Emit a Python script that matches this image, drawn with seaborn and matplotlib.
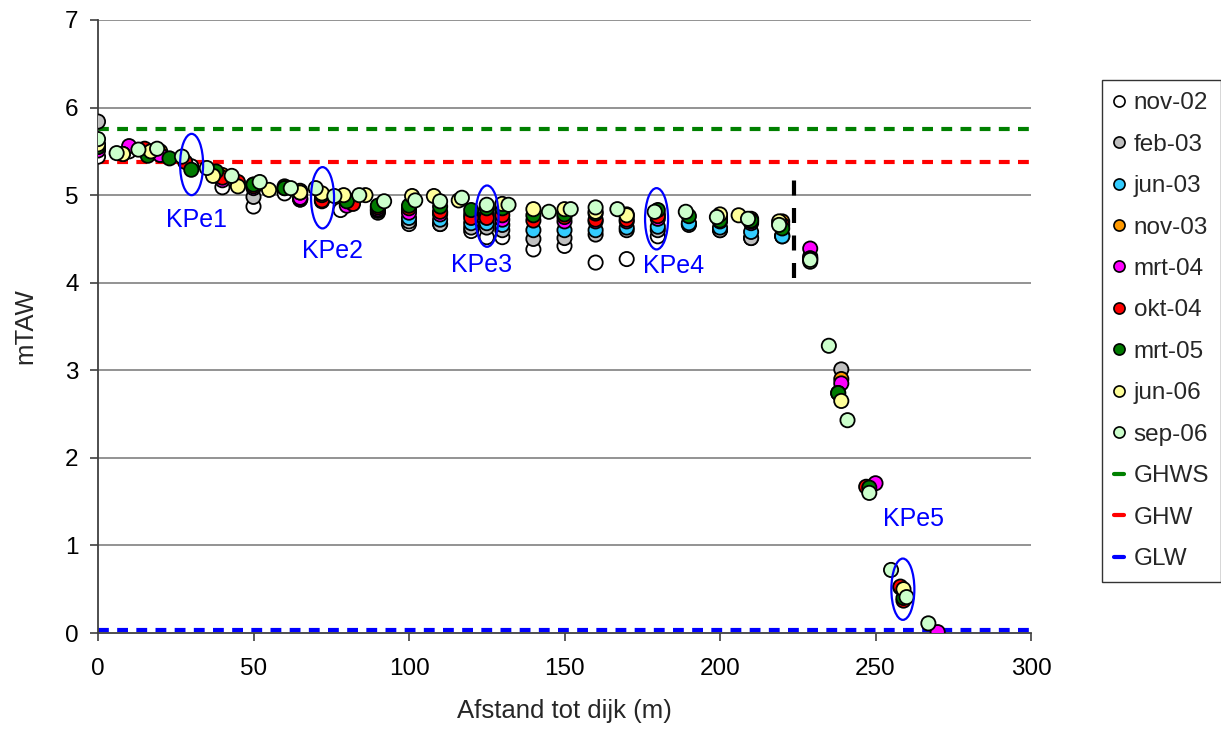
import numpy as np
import pandas as pd
import matplotlib
matplotlib.use("Agg")
import matplotlib.pyplot as plt
from matplotlib.patches import Ellipse
from matplotlib.lines import Line2D
import seaborn as sns

# ---------------- data ----------------
series_names = ["nov-02", "feb-03", "jun-03", "nov-03", "mrt-04",
                "okt-04", "mrt-05", "jun-06", "sep-06"]
series_colors = ["#ffffff", "#c0c0c0", "#33ccff", "#ff9900", "#ff00ff",
                 "#ff0000", "#007a00", "#ffff99", "#ccffcc"]

nov02_x = [0, 10, 20, 30, 40, 50, 60, 65, 72, 78, 90, 100, 110, 120, 125, 130, 140, 150, 160, 170, 180, 190, 200, 210, 220]
nov02_y = [5.44, 5.50, 5.46, 5.33, 5.09, 4.87, 5.02, 4.95, 4.93, 4.83, 4.80, 4.67, 4.67, 4.59, 4.52, 4.52, 4.38, 4.42, 4.23, 4.27, 4.53, 4.67, 4.60, 4.51, 4.53]

feb03_x = [0, 50, 65, 90, 100, 110, 120, 125, 130, 140, 150, 160, 170, 180, 190, 200, 210, 220, 239]
feb03_y = [5.84, 4.98, 4.95, 4.82, 4.70, 4.67, 4.63, 4.63, 4.60, 4.50, 4.51, 4.55, 4.60, 4.60, 4.66, 4.60, 4.51, 4.54, 3.01]

jun03_x = [0, 65, 90, 100, 110, 120, 125, 130, 140, 150, 160, 170, 180, 190, 200, 210, 220]
jun03_y = [5.55, 4.96, 4.83, 4.74, 4.72, 4.68, 4.68, 4.66, 4.60, 4.60, 4.60, 4.63, 4.64, 4.68, 4.63, 4.58, 4.53]

nov03_x = [0, 20, 40, 50, 60, 65, 80, 90, 100, 110, 125, 130, 150, 170, 180, 200, 210, 220, 229, 239]
nov03_y = [5.57, 5.50, 5.23, 5.12, 5.10, 5.05, 4.95, 4.87, 4.82, 4.80, 4.78, 4.82, 4.80, 4.76, 4.78, 4.75, 4.73, 4.70, 4.30, 2.90]

mrt04_x = [0, 10, 20, 40, 50, 65, 72, 80, 90, 100, 110, 120, 130, 150, 160, 170, 180, 200, 210, 229, 239, 250, 258, 270]
mrt04_y = [5.51, 5.56, 5.46, 5.17, 5.08, 4.97, 4.95, 4.88, 4.84, 4.80, 4.78, 4.78, 4.72, 4.70, 4.70, 4.70, 4.73, 4.70, 4.68, 4.39, 2.85, 1.71, 0.52, 0.01]

okt04_x = [0, 15, 28, 40, 45, 50, 60, 72, 82, 90, 100, 110, 120, 125, 130, 140, 150, 160, 170, 180, 200, 210, 220, 229, 238, 247, 258, 259]
okt04_y = [5.55, 5.53, 5.38, 5.20, 5.15, 5.10, 5.08, 4.94, 4.90, 4.86, 4.85, 4.81, 4.74, 4.74, 4.77, 4.71, 4.75, 4.72, 4.72, 4.76, 4.72, 4.70, 4.66, 4.28, 2.74, 1.67, 0.53, 0.37]

mrt05_x = [0, 8, 16, 23, 30, 38, 50, 60, 65, 72, 80, 90, 100, 110, 120, 125, 130, 140, 150, 160, 170, 180, 190, 200, 210, 220, 229, 238, 248, 259]
mrt05_y = [5.55, 5.47, 5.45, 5.42, 5.29, 5.27, 5.12, 5.08, 5.03, 5.00, 4.93, 4.88, 4.88, 4.87, 4.83, 4.85, 4.85, 4.77, 4.78, 4.79, 4.78, 4.83, 4.76, 4.71, 4.71, 4.62, 4.27, 2.74, 1.66, 0.40]

jun06_x = [0, 8, 17, 37, 45, 55, 65, 72, 79, 86, 101, 108, 116, 130, 140, 150, 160, 170, 200, 206, 219, 229, 239, 259]
jun06_y = [5.58, 5.47, 5.50, 5.22, 5.10, 5.06, 5.03, 5.02, 5.00, 5.00, 4.99, 4.99, 4.94, 4.90, 4.84, 4.84, 4.81, 4.77, 4.78, 4.77, 4.70, 4.24, 2.65, 0.50]

sep06_x = [0, 6, 13, 19, 27, 35, 43, 52, 62, 70, 76, 84, 92, 102, 110, 117, 125, 132, 145, 152, 160, 167, 179, 189, 199, 209, 219, 229, 235, 241, 248, 255, 260, 267]
sep06_y = [5.64, 5.48, 5.52, 5.53, 5.44, 5.31, 5.22, 5.15, 5.08, 5.08, 4.99, 5.00, 4.93, 4.94, 4.93, 4.97, 4.89, 4.89, 4.81, 4.84, 4.86, 4.84, 4.81, 4.81, 4.75, 4.73, 4.66, 4.26, 3.28, 2.43, 1.60, 0.72, 0.41, 0.11]

ref_names = ["GHWS", "GHW", "GLW"]
ref_levels = [5.76, 5.38, 0.03]
ref_colors = ["#008000", "#ff0000", "#0000ff"]

kpe_labels = ["KPe1", "KPe2", "KPe3", "KPe4", "KPe5"]
kpe_x = [30.1, 72.2, 125.1, 179.6, 258.8]
kpe_y = [5.35, 4.97, 4.76, 4.73, 0.50]
kpe_label_x = [31.8, 75.3, 123.3, 185.2, 262.2]
kpe_label_y = [4.72, 4.36, 4.20, 4.19, 1.30]

boundary_x = 223.8
boundary_y = [4.05, 5.17]

xticks = [0, 50, 100, 150, 200, 250, 300]
yticks = [0, 1, 2, 3, 4, 5, 6, 7]

# ---------------- frame ----------------
all_x = [nov02_x, feb03_x, jun03_x, nov03_x, mrt04_x, okt04_x, mrt05_x, jun06_x, sep06_x]
all_y = [nov02_y, feb03_y, jun03_y, nov03_y, mrt04_y, okt04_y, mrt05_y, jun06_y, sep06_y]
frames = []
for name, xs, ys in zip(series_names, all_x, all_y):
    frames.append(pd.DataFrame({"x": xs, "y": ys, "reeks": name}))
df = pd.concat(frames, ignore_index=True)

sns.set_theme(style="white")
plt.rcParams["font.family"] = ["Liberation Sans", "DejaVu Sans"]
FS = 17.5
FS_LAB = 18.5

fig = plt.figure(figsize=(12.21, 7.31), dpi=100)
ax = fig.add_axes([98 / 1221, 98 / 731, (1031 - 98) / 1221, (633 - 20) / 731])

# gridlines
for yv in yticks[1:]:
    ax.axhline(yv, color="#808080", lw=1.2, zorder=0)

# reference levels
for lvl, col in zip(ref_levels, ref_colors):
    ax.axhline(lvl, color=col, lw=3, ls=(0, (2.6, 2.0)), zorder=1)

# scatter
palette = dict(zip(series_names, series_colors))
sns.scatterplot(data=df, x="x", y="y", hue="reeks", hue_order=series_names,
                palette=palette, s=105, edgecolor="black", linewidth=1.3,
                legend=False, ax=ax, zorder=3)

# boundary dashed line
ax.plot([boundary_x, boundary_x], boundary_y, color="black", lw=3,
        ls=(0, (3.6, 3.0)), zorder=2)

# ellipses and labels
for ex, ey in zip(kpe_x, kpe_y):
    ax.add_patch(Ellipse((ex, ey), width=7.4, height=0.70, fill=False,
                         edgecolor="#0000ff", lw=1.6, zorder=4))
for lab, lx, ly in zip(kpe_labels, kpe_label_x, kpe_label_y):
    ax.text(lx, ly, lab, color="#0000ff", fontsize=18, ha="center", va="center", zorder=5)

ax.set_xlim(0, 300)
ax.set_ylim(0, 7)
ax.set_xticks(xticks)
ax.set_yticks(yticks)
ax.set_xticklabels([str(v) for v in xticks], fontsize=FS)
ax.set_yticklabels([str(v) for v in yticks], fontsize=FS)
ax.tick_params(axis="both", direction="out", length=6, width=1.2, color="#404040",
               colors="black", bottom=True, left=True)
ax.tick_params(axis="y", pad=8)
ax.tick_params(axis="x", pad=12)
for side in ["top", "right"]:
    ax.spines[side].set_visible(False)
for side in ["left", "bottom"]:
    ax.spines[side].set_color("#404040")
    ax.spines[side].set_linewidth(1.3)
ax.set_xlabel("Afstand tot dijk (m)", fontsize=FS_LAB, labelpad=14)
ax.set_ylabel("mTAW", fontsize=FS_LAB, labelpad=20)
ax.set_facecolor("white")

# legend
handles = []
labels = []
for name, col in zip(series_names, series_colors):
    handles.append(Line2D([], [], ls="none", marker="o", markersize=8,
                          markerfacecolor=col, markeredgecolor="black", markeredgewidth=1.2))
    labels.append(name)
for name, col in zip(ref_names, ref_colors):
    handles.append(Line2D([], [], color=col, lw=3))
    labels.append(name)
leg = fig.legend(handles, labels, loc="upper left",
                 bbox_to_anchor=(1102 / 1221, 1 - 80 / 731),
                 bbox_transform=fig.transFigure, fontsize=FS, frameon=True,
                 fancybox=False, shadow=False, borderaxespad=0, handlelength=0.4,
                 handletextpad=0.4, labelspacing=0.8, borderpad=0.5)
leg.get_frame().set_edgecolor("black")
leg.get_frame().set_linewidth(1.0)

fig.savefig("out.png", dpi=100, facecolor="white")
